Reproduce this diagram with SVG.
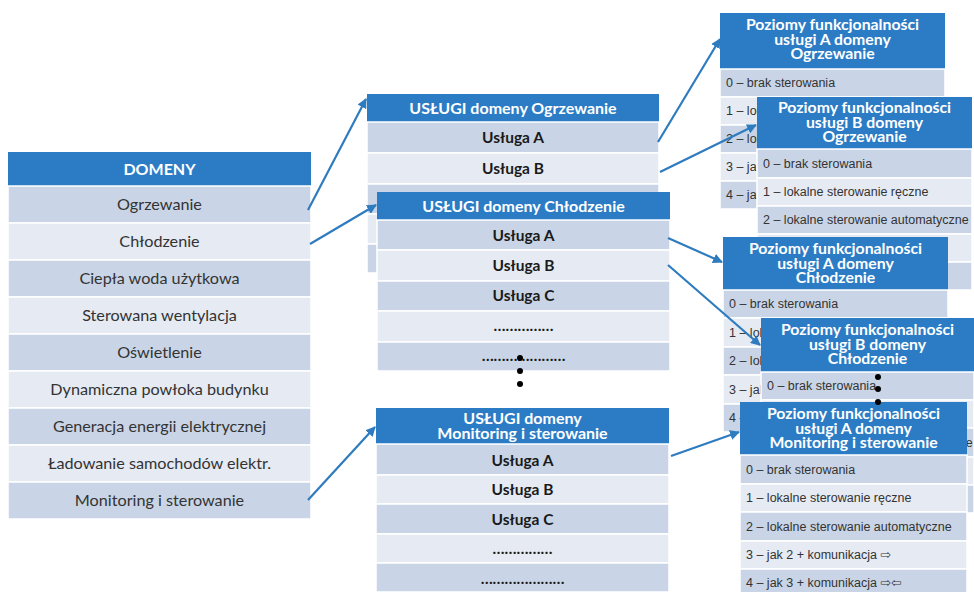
<svg xmlns="http://www.w3.org/2000/svg" width="974" height="592" viewBox="0 0 974 592">
<defs>
<style>
.hd{fill:#2b7cc5}
.dk{fill:#c9d5e6;stroke:#fff;stroke-width:1.5}
.lt{fill:#e5eaf3;stroke:#fff;stroke-width:1.5}
.ht{font-family:Lato,"Liberation Sans",sans-serif;font-weight:bold;fill:#fff;text-anchor:middle}
.ph{font-size:15.8px}
.dt{font-family:Lato,"Liberation Sans",sans-serif;font-size:16.2px;fill:#333;text-anchor:middle}
.mt{font-family:Lato,"Liberation Sans",sans-serif;font-weight:bold;font-size:15.5px;fill:#1a1a1a;text-anchor:middle}
.rt{font-family:"Liberation Sans","DejaVu Sans",sans-serif;font-size:12.5px;fill:#333}
.con{stroke:#2e7bbf;stroke-width:2.2;fill:none;marker-end:url(#ah)}
.dot{fill:#000}
</style>
<marker id="ah" viewBox="0 0 10 10" refX="9" refY="5" markerWidth="4.5" markerHeight="4.5" orient="auto" markerUnits="strokeWidth">
<path d="M0,0 L10,5 L0,10 z" fill="#2e7bbf"/>
</marker>
</defs>
<rect width="974" height="592" fill="#fff"/>

<g id="domeny">
<rect class="hd" x="8" y="152" width="303" height="34"/>
<text class="ht" x="159.5" y="174.5" font-size="16">DOMENY</text>
<rect class="dk" x="8" y="186" width="303" height="37"/>
<rect class="lt" x="8" y="223" width="303" height="37"/>
<rect class="dk" x="8" y="260" width="303" height="37"/>
<rect class="lt" x="8" y="297" width="303" height="37"/>
<rect class="dk" x="8" y="334" width="303" height="37"/>
<rect class="lt" x="8" y="371" width="303" height="37"/>
<rect class="dk" x="8" y="408" width="303" height="37"/>
<rect class="lt" x="8" y="445" width="303" height="37"/>
<rect class="dk" x="8" y="482" width="303" height="37"/>
<text class="dt" x="159.5" y="210">Ogrzewanie</text>
<text class="dt" x="159.5" y="247">Chłodzenie</text>
<text class="dt" x="159.5" y="284">Ciepła woda użytkowa</text>
<text class="dt" x="159.5" y="321">Sterowana wentylacja</text>
<text class="dt" x="159.5" y="358">Oświetlenie</text>
<text class="dt" x="159.5" y="395">Dynamiczna powłoka budynku</text>
<text class="dt" x="159.5" y="432">Generacja energii elektrycznej</text>
<text class="dt" x="159.5" y="469">Ładowanie samochodów elektr.</text>
<text class="dt" x="159.5" y="506">Monitoring i sterowanie</text>
</g>

<g id="uslugi-ogrzewanie">
<rect class="hd" x="367" y="94" width="292" height="28"/>
<text class="ht" x="513" y="113.5" font-size="16">USŁUGI domeny Ogrzewanie</text>
<rect class="dk" x="367" y="122" width="292" height="31"/>
<rect class="lt" x="367" y="153" width="292" height="31"/>
<rect class="dk" x="367" y="184" width="292" height="30"/>
<rect class="lt" x="367" y="214" width="292" height="30"/>
<rect class="dk" x="367" y="244" width="292" height="29"/>
<text class="mt" x="513" y="143">Usługa A</text>
<text class="mt" x="513" y="174">Usługa B</text>
</g>

<g id="uslugi-chlodzenie">
<rect class="hd" x="377" y="192" width="293" height="28"/>
<text class="ht" x="523.5" y="211.5" font-size="16">USŁUGI domeny Chłodzenie</text>
<rect class="dk" x="377" y="220" width="293" height="30"/>
<rect class="lt" x="377" y="250" width="293" height="31"/>
<rect class="dk" x="377" y="281" width="293" height="30"/>
<rect class="lt" x="377" y="311" width="293" height="31"/>
<rect class="dk" x="377" y="342" width="293" height="29"/>
<text class="mt" x="523.5" y="241">Usługa A</text>
<text class="mt" x="523.5" y="271">Usługa B</text>
<text class="mt" x="523.5" y="301">Usługa C</text>
<text class="mt" x="523.5" y="331" font-size="11">……………</text>
<text class="mt" x="523.5" y="361" font-size="11">…………………</text>
</g>

<g id="uslugi-monitoring">
<rect class="hd" x="376" y="408" width="293" height="36"/>
<text class="ht" x="522.5" y="424" font-size="16">USŁUGI domeny</text>
<text class="ht" x="522.5" y="439" font-size="16">Monitoring i sterowanie</text>
<rect class="dk" x="376" y="444" width="293" height="31"/>
<rect class="lt" x="376" y="475" width="293" height="29"/>
<rect class="dk" x="376" y="504" width="293" height="30"/>
<rect class="lt" x="376" y="534" width="293" height="29"/>
<rect class="dk" x="376" y="563" width="293" height="29"/>
<text class="mt" x="522.5" y="466">Usługa A</text>
<text class="mt" x="522.5" y="495">Usługa B</text>
<text class="mt" x="522.5" y="525">Usługa C</text>
<text class="mt" x="522.5" y="554" font-size="11">……………</text>
<text class="mt" x="522.5" y="584" font-size="11">…………………</text>
</g>

<g id="ellipsis-middle">
<circle class="dot" cx="520" cy="358" r="3"/>
<circle class="dot" cx="520" cy="371" r="3"/>
<circle class="dot" cx="520" cy="384" r="3"/>
</g>

<g id="poziomy-a-ogrzewanie">
<rect class="hd" x="720" y="13" width="225" height="56"/>
<text class="ht ph" x="832.5" y="30">Poziomy funkcjonalności</text>
<text class="ht ph" x="832.5" y="44.5">usługi A domeny</text>
<text class="ht ph" x="832.5" y="59">Ogrzewanie</text>
<rect class="dk" x="720" y="69" width="225" height="28"/>
<rect class="lt" x="720" y="97" width="225" height="28"/>
<rect class="dk" x="720" y="125" width="225" height="28"/>
<rect class="lt" x="720" y="153" width="225" height="28"/>
<rect class="dk" x="720" y="181" width="225" height="28"/>
<text class="rt" x="726" y="87">0 – brak sterowania</text>
<text class="rt" x="726" y="115">1 – lokalne sterowanie ręczne</text>
<text class="rt" x="726" y="143">2 – lokalne sterowanie automatyczne</text>
<text class="rt" x="726" y="171">3 – jak 2 + komunikacja  ⇨</text>
<text class="rt" x="726" y="199">4 – jak 3 + komunikacja  ⇨⇦</text>
</g>

<g id="poziomy-b-ogrzewanie">
<rect class="hd" x="757" y="97" width="215" height="52"/>
<text class="ht ph" x="864.5" y="113">Poziomy funkcjonalności</text>
<text class="ht ph" x="864.5" y="127.5">usługi B domeny</text>
<text class="ht ph" x="864.5" y="142">Ogrzewanie</text>
<rect class="dk" x="757" y="149" width="215" height="29"/>
<rect class="lt" x="757" y="178" width="215" height="28"/>
<rect class="dk" x="757" y="206" width="215" height="28"/>
<rect class="lt" x="757" y="234" width="215" height="28"/>
<rect class="dk" x="757" y="262" width="215" height="28"/>
<text class="rt" x="763" y="168">0 – brak sterowania</text>
<text class="rt" x="763" y="196">1 – lokalne sterowanie ręczne</text>
<text class="rt" x="763" y="224">2 – lokalne sterowanie automatyczne</text>
<text class="rt" x="763" y="252">3 – jak 2 + komunikacja  ⇨</text>
<text class="rt" x="763" y="280">4 – jak 3 + komunikacja  ⇨⇦</text>
</g>

<g id="poziomy-a-chlodzenie">
<rect class="hd" x="723" y="237" width="225" height="53"/>
<text class="ht ph" x="835.5" y="254">Poziomy funkcjonalności</text>
<text class="ht ph" x="835.5" y="268.5">usługi A domeny</text>
<text class="ht ph" x="835.5" y="283">Chłodzenie</text>
<rect class="dk" x="723" y="290" width="225" height="28"/>
<rect class="lt" x="723" y="318" width="225" height="29"/>
<rect class="dk" x="723" y="347" width="225" height="28"/>
<rect class="lt" x="723" y="375" width="225" height="29"/>
<rect class="dk" x="723" y="404" width="225" height="28"/>
<text class="rt" x="729" y="308">0 – brak sterowania</text>
<text class="rt" x="729" y="337">1 – lokalne sterowanie ręczne</text>
<text class="rt" x="729" y="365">2 – lokalne sterowanie automatyczne</text>
<text class="rt" x="729" y="394">3 – jak 2 + komunikacja  ⇨</text>
<text class="rt" x="729" y="422">4 – jak 3 + komunikacja  ⇨⇦</text>
</g>

<g id="poziomy-b-chlodzenie">
<rect class="hd" x="761" y="318" width="213" height="54"/>
<text class="ht ph" x="867.5" y="335">Poziomy funkcjonalności</text>
<text class="ht ph" x="867.5" y="349.5">usługi B domeny</text>
<text class="ht ph" x="867.5" y="364">Chłodzenie</text>
<rect class="dk" x="761" y="372" width="213" height="28"/>
<rect class="lt" x="761" y="400" width="213" height="28"/>
<rect class="dk" x="761" y="428" width="213" height="29"/>
<rect class="lt" x="761" y="457" width="213" height="28"/>
<rect class="dk" x="761" y="485" width="213" height="28"/>
<text class="rt" x="767" y="390">0 – brak sterowania</text>
<text class="rt" x="767" y="418">1 – lokalne sterowanie ręczne</text>
<text class="rt" x="767" y="447">2 – lokalne sterowanie automatyczne</text>
<text class="rt" x="767" y="475">3 – jak 2 + komunikacja  ⇨</text>
<text class="rt" x="767" y="503">4 – jak 3 + komunikacja  ⇨⇦</text>
</g>

<g id="poziomy-a-monitoring">
<rect class="hd" x="740" y="402" width="227" height="53"/>
<text class="ht ph" x="853.5" y="419">Poziomy funkcjonalności</text>
<text class="ht ph" x="853.5" y="433.5">usługi A domeny</text>
<text class="ht ph" x="853.5" y="448">Monitoring i sterowanie</text>
<rect class="dk" x="740" y="455" width="227" height="29"/>
<rect class="lt" x="740" y="484" width="227" height="28"/>
<rect class="dk" x="740" y="512" width="227" height="29"/>
<rect class="lt" x="740" y="541" width="227" height="28"/>
<rect class="dk" x="740" y="569" width="227" height="29"/>
<text class="rt" x="746" y="474">0 – brak sterowania</text>
<text class="rt" x="746" y="502">1 – lokalne sterowanie ręczne</text>
<text class="rt" x="746" y="531">2 – lokalne sterowanie automatyczne</text>
<text class="rt" x="746" y="559">3 – jak 2 + komunikacja  ⇨</text>
<text class="rt" x="746" y="587">4 – jak 3 + komunikacja  ⇨⇦</text>
</g>

<g id="ellipsis-right">
<circle class="dot" cx="878" cy="377" r="3"/>
<circle class="dot" cx="878" cy="389" r="3"/>
<circle class="dot" cx="878" cy="402" r="3"/>
</g>

<g id="connectors">
<path class="con" d="M308,210 L366,99"/>
<path class="con" d="M310,244 L376,205"/>
<path class="con" d="M308,500 L375,427"/>
<path class="con" d="M658,142 L720,39"/>
<path class="con" d="M660,172 L756,125"/>
<path class="con" d="M668,238 L722,262"/>
<path class="con" d="M668,265 L760,345"/>
<path class="con" d="M671,456 L739,432"/>
</g>
</svg>
